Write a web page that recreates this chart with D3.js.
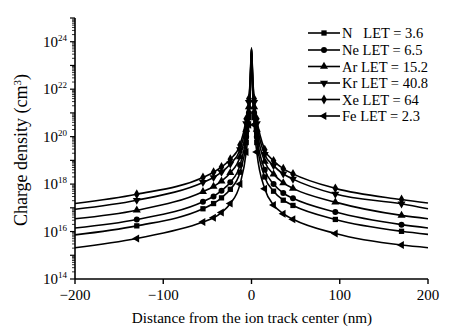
<!DOCTYPE html>
<html>
<head>
<meta charset="utf-8">
<script src="https://cdn.jsdelivr.net/npm/d3@7"></script>
<style>
  html, body { margin: 0; padding: 0; background: #fff; }
  svg { display: block; }
  text { font-family: "Liberation Serif", "Times New Roman", serif; fill: #000; }
</style>
</head>
<body>
<svg id="chart" width="476" height="336"></svg>
<script>
// ---------------- data ----------------
// distance from the ion track centre (nm)
const distance = [-200, -130, -55, -43, -34, -24, -13, -6, -3, -1.5, 0,
                  1.5, 3, 6, 15, 25, 36, 47, 95, 170, 200];
// which points carry a marker
const markerAt = [false, true, true, true, true, true, true, true, true, false, false,
                  false, true, true, true, true, true, true, true, true, false];

// series names / LET values (legend order)
const ions   = ["N", "Ne", "Ar", "Kr", "Xe", "Fe"];
const letVal = ["3.6", "6.5", "15.2", "40.8", "64", "2.3"];
const symbols = ["square", "circle", "triangle", "triangleDown", "diamond", "triangleLeft"];

// charge density, given as log10(cm^-3)
const logN  = [15.86, 16.24, 16.96, 17.18, 17.42, 17.78, 18.50, 19.75, 20.80, 21.85, 23.66,
               21.85, 20.80, 19.75, 18.30, 17.70, 17.32, 17.10, 16.51, 16.01, 15.88];
const logNe = [16.15, 16.51, 17.26, 17.48, 17.72, 18.08, 18.80, 20.00, 21.00, 22.00, 23.68,
               22.00, 21.00, 20.00, 18.60, 18.00, 17.62, 17.40, 16.82, 16.29, 16.15];
const logAr = [16.54, 16.90, 17.68, 17.90, 18.12, 18.48, 19.15, 20.30, 21.25, 22.15, 23.70,
               22.15, 21.25, 20.30, 18.95, 18.42, 18.05, 17.82, 17.24, 16.68, 16.54];
const logKr = [16.94, 17.32, 18.07, 18.28, 18.50, 18.85, 19.45, 20.55, 21.45, 22.30, 23.72,
               22.30, 21.45, 20.55, 19.25, 18.78, 18.43, 18.21, 17.58, 17.17, 16.96];
const logXe = [17.18, 17.57, 18.28, 18.50, 18.72, 19.05, 19.65, 20.75, 21.60, 22.40, 23.74,
               22.40, 21.60, 20.75, 19.45, 18.98, 18.65, 18.43, 17.82, 17.35, 17.20];
const logFe = [15.32, 15.71, 16.40, 16.58, 16.80, 17.18, 18.00, 19.35, 20.50, 21.70, 23.64,
               21.70, 20.50, 19.35, 17.80, 17.12, 16.75, 16.52, 15.92, 15.43, 15.32];
const seriesLog = [logN, logNe, logAr, logKr, logXe, logFe];

const xTicks = [-200, -100, 0, 100, 200];
const xTickLabels = ["\u2212200", "\u2212100", "0", "100", "200"];
const yMajorExp = [14, 16, 18, 20, 22, 24];

// ---------------- layout ----------------
const svg = d3.select("#chart");
const x = d3.scaleLinear().domain([-200, 200]).range([75, 428]);
const y = d3.scaleLog().domain([1e14, 1e25]).range([279, 18]);

// axes lines
svg.append("line").attr("x1", 75).attr("x2", 428).attr("y1", 279).attr("y2", 279)
  .attr("stroke", "#000").attr("stroke-width", 1.6);
svg.append("line").attr("x1", 75).attr("x2", 75).attr("y1", 18).attr("y2", 279)
  .attr("stroke", "#000").attr("stroke-width", 1.6);

// x ticks
const gx = svg.append("g");
xTicks.forEach((t, i) => {
  gx.append("line").attr("x1", x(t)).attr("x2", x(t)).attr("y1", 279).attr("y2", 284)
    .attr("stroke", "#000").attr("stroke-width", 1.4);
  gx.append("text").attr("x", x(t)).attr("y", 300).attr("text-anchor", "middle")
    .attr("font-size", 15).text(xTickLabels[i]);
});

// y ticks (log, with minor ticks)
const gy = svg.append("g");
for (let e = 14; e <= 25; e++) {
  gy.append("line").attr("x1", 70).attr("x2", 75).attr("y1", y(Math.pow(10, e))).attr("y2", y(Math.pow(10, e)))
    .attr("stroke", "#000").attr("stroke-width", 1.2);
  if (e < 25) {
    for (let m = 2; m <= 9; m++) {
      const v = m * Math.pow(10, e);
      gy.append("line").attr("x1", 72).attr("x2", 75).attr("y1", y(v)).attr("y2", y(v))
        .attr("stroke", "#000").attr("stroke-width", 0.8);
    }
  }
}
yMajorExp.forEach(e => {
  const t = gy.append("text").attr("x", 67).attr("y", y(Math.pow(10, e)) + 5)
    .attr("text-anchor", "end").attr("font-size", 15);
  t.append("tspan").text("10");
  t.append("tspan").attr("dy", -6).attr("font-size", 9).text(e);
});

// axis titles
svg.append("text").attr("x", 252).attr("y", 323).attr("text-anchor", "middle")
  .attr("font-size", 15.2).text("Distance from the ion track center (nm)");
const yt = svg.append("text").attr("transform", "translate(27,150) rotate(-90)")
  .attr("text-anchor", "middle").attr("font-size", 18);
yt.append("tspan").text("Charge density (cm");
yt.append("tspan").attr("dy", -6).attr("font-size", 11).text("3");
yt.append("tspan").attr("dy", 6).text(")");

// symbol generator
const symType = {
  square: d3.symbolSquare, circle: d3.symbolCircle, triangle: d3.symbolTriangle,
  diamond: d3.symbolDiamond
};
function drawMarker(g, kind, cx, cy, size) {
  if (kind === "triangleDown" || kind === "triangleLeft") {
    const path = d3.symbol().type(d3.symbolTriangle).size(size)();
    const rot = kind === "triangleDown" ? 180 : -90;
    g.append("path").attr("d", path).attr("transform", `translate(${cx},${cy}) rotate(${rot})`)
      .attr("fill", "#000");
  } else {
    const path = d3.symbol().type(symType[kind]).size(size)();
    g.append("path").attr("d", path).attr("transform", `translate(${cx},${cy})`).attr("fill", "#000");
  }
}

// lines
const line = d3.line().x(d => x(d[0])).y(d => y(d[1])).curve(d3.curveMonotoneX);
const plot = svg.append("g");
seriesLog.forEach((arr, si) => {
  const pts = distance.map((d, i) => [d, Math.pow(10, arr[i])]);
  plot.append("path").attr("d", line(pts)).attr("fill", "none")
    .attr("stroke", "#000").attr("stroke-width", 1.6);
  pts.forEach((p, i) => {
    if (markerAt[i]) drawMarker(plot, symbols[si], x(p[0]), y(p[1]), 28);
  });
});

// legend
const lg = svg.append("g");
const rowY = [33, 50, 66.5, 83, 99.5, 116];
const legendNames = ["N   ", "Ne ", "Ar ", "Kr ", "Xe ", "Fe "];
ions.forEach((name, i) => {
  lg.append("line").attr("x1", 308).attr("x2", 340).attr("y1", rowY[i]).attr("y2", rowY[i])
    .attr("stroke", "#000").attr("stroke-width", 1.6);
  drawMarker(lg, symbols[i], 324, rowY[i], 28);
  lg.append("text").attr("x", 342).attr("y", rowY[i] + 5).attr("font-size", 14.5)
    .style("white-space", "pre").attr("xml:space", "preserve")
    .text(legendNames[i] + "LET = " + letVal[i]);
});
</script>
</body>
</html>
